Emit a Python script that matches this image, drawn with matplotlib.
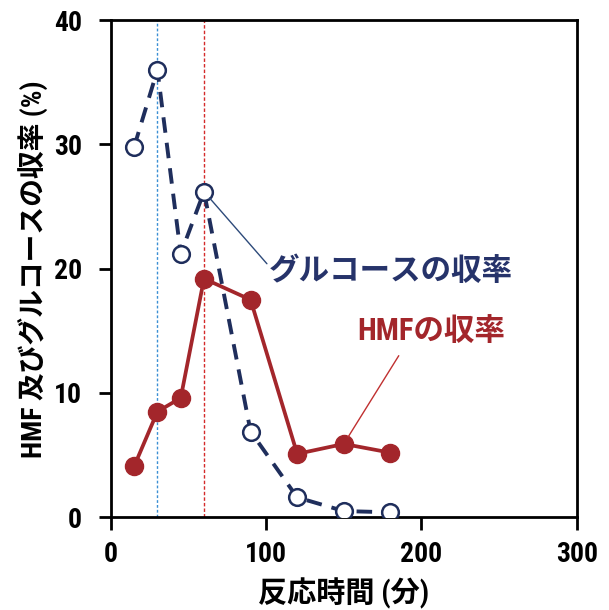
import matplotlib.pyplot as plt
from matplotlib import font_manager

# narrow bold face for numbers if one is around, otherwise Arial-like
installed = {f.name for f in font_manager.fontManager.ttflist}
latin = 'Liberation Sans'
for name in ['Liberation Sans Narrow', 'Roboto Condensed', 'Open Sans Condensed']:
    if name in installed:
        latin = name
        break
plt.rcParams['font.family'] = [latin, 'Noto Sans CJK JP', 'DejaVu Sans']
plt.rcParams['font.weight'] = 'bold'

# reaction time (min) and yields (%)
time_min = [15, 30, 45, 60, 90, 120, 150, 180]
glucose_yield = [29.8, 36.0, 21.2, 26.2, 6.9, 1.6, 0.5, 0.4]
hmf_yield = [4.1, 8.5, 9.6, 19.2, 17.5, 5.1, 5.9, 5.2]

navy = '#1f2e5c'
red = '#a3262b'

fig = plt.figure(figsize=(6.09, 6.10), dpi=100)
ax = fig.add_axes([0.182, 0.152, 0.765, 0.815])

ax.axvline(30, color='#3b8fd4', lw=1, ls=(0, (2, 1.5)), zorder=1)
ax.axvline(60, color='#d42a2a', lw=1, ls=(0, (2.5, 1.5)), zorder=1)

ax.plot(time_min, glucose_yield, color=navy, lw=2.8, ls=(0, (4, 2.6)),
        marker='o', ms=12, mfc='white', mec=navy, mew=1.8, zorder=3)
ax.plot(time_min, hmf_yield, color=red, lw=2.7, ls='-',
        marker='o', ms=13, mfc=red, mec=red, zorder=3)

# series labels with leader lines
ax.annotate('', xy=(60, 26.2), xytext=(100.5, 20.4),
            arrowprops=dict(arrowstyle='-', color='#2d4a7a', lw=1,
                            shrinkA=0, shrinkB=6))
ax.text(101.5, 19.8, 'グルコースの収率', color='#26336a', fontsize=22,
        fontweight='bold', va='center', ha='left')
ax.annotate('', xy=(150, 5.9), xytext=(185.4, 13.0),
            arrowprops=dict(arrowstyle='-', color='#c03030', lw=1,
                            shrinkA=0, shrinkB=6))
ax.text(158.4, 15.0, 'HMFの収率', color=red, fontsize=22,
        fontweight='bold', va='center', ha='left')

ax.set_xlim(0, 300)
ax.set_ylim(0, 40)
ax.set_xticks([0, 100, 200, 300])
ax.set_yticks([0, 10, 20, 30, 40])
ax.tick_params(direction='out', length=9, width=2, labelsize=20)
ax.tick_params(axis='x', pad=8)
ax.tick_params(axis='y', pad=12)
for s in ax.spines.values():
    s.set_linewidth(2)

ax.set_xlabel('反応時間 (分)', fontsize=21, fontweight='bold', labelpad=7)
ax.set_ylabel('HMF 及びグルコースの収率 (%)', fontsize=20, fontweight='bold', labelpad=4)

fig.savefig('out.png', dpi=100)
